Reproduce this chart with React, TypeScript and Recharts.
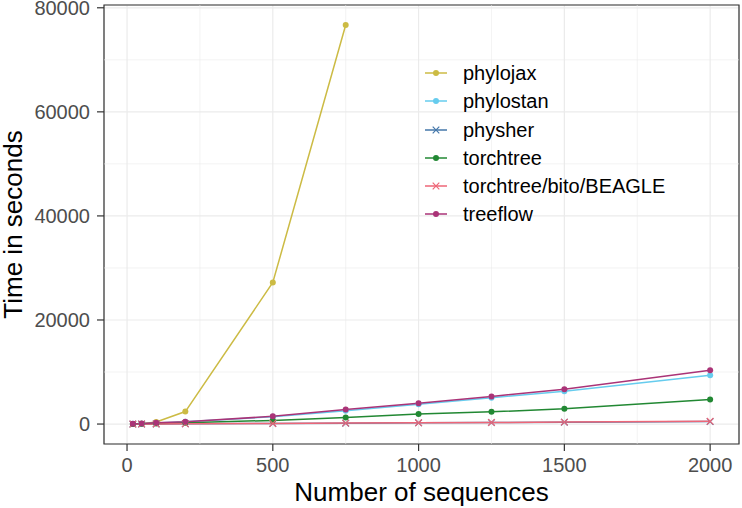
import React from "react";
import {
  LineChart,
  Line,
  XAxis,
  YAxis,
  CartesianGrid,
  ReferenceLine,
  ReferenceArea,
  Legend,
} from "recharts";

// ---- data ----
const SEQUENCES = [20, 50, 100, 200, 500, 750, 1000, 1250, 1500, 2000];
const PHYLOJAX = [10, 60, 400, 2400, 27200, 76700, null, null, null, null];
const PHYLOSTAN = [40, 70, 180, 420, 1420, 2550, 3800, 5050, 6300, 9380];
const PHYSHER = [3, 6, 15, 40, 110, 170, 230, 290, 350, 470];
const TORCHTREE = [15, 35, 90, 250, 700, 1280, 1930, 2350, 2930, 4720];
const TORCHTREE_BITO = [5, 10, 25, 50, 120, 180, 240, 300, 370, 520];
const TREEFLOW = [50, 90, 250, 450, 1480, 2800, 3990, 5300, 6700, 10350];

const X_TICKS = [0, 500, 1000, 1500, 2000];
const X_MINOR = [250, 750, 1250, 1750];
const Y_TICKS = [0, 20000, 40000, 60000, 80000];
const Y_MINOR = [10000, 30000, 50000, 70000];

const X_DOMAIN: [number, number] = [-79, 2099];
const Y_DOMAIN: [number, number] = [-3835, 80535];

type Shape = "circle" | "cross";
const SERIES: { key: string; name: string; color: string; shape: Shape; values: (number | null)[] }[] = [
  { key: "phylojax", name: "phylojax", color: "#CCBB44", shape: "circle", values: PHYLOJAX },
  { key: "phylostan", name: "phylostan", color: "#66CCEE", shape: "circle", values: PHYLOSTAN },
  { key: "physher", name: "physher", color: "#4477AA", shape: "cross", values: PHYSHER },
  { key: "torchtree", name: "torchtree", color: "#228833", shape: "circle", values: TORCHTREE },
  { key: "torchtreeBito", name: "torchtree/bito/BEAGLE", color: "#EE6677", shape: "cross", values: TORCHTREE_BITO },
  { key: "treeflow", name: "treeflow", color: "#AA3377", shape: "circle", values: TREEFLOW },
];

const rows = SEQUENCES.map((n, i) => {
  const r: Record<string, number | null> = { n };
  SERIES.forEach((s) => {
    r[s.key] = s.values[i];
  });
  return r;
});

const LINE_W = 1.5;

const makeDot = (color: string, shape: Shape) => (props: any) => {
  const { cx, cy, index } = props;
  if (cx == null || cy == null || Number.isNaN(cx) || Number.isNaN(cy)) {
    return <g key={`e${index}`} />;
  }
  if (shape === "cross") {
    const d = 3.3;
    return (
      <path
        key={`x${index}`}
        d={`M${cx - d},${cy - d}L${cx + d},${cy + d}M${cx - d},${cy + d}L${cx + d},${cy - d}`}
        stroke={color}
        strokeWidth={1.2}
        fill="none"
      />
    );
  }
  return <circle key={`c${index}`} cx={cx} cy={cy} r={3} fill={color} stroke="none" />;
};

const LegendBox = () => (
  <div style={{ fontFamily: "'Liberation Sans', Arial, sans-serif" }}>
    {SERIES.map((s) => (
      <div key={s.key} style={{ display: "flex", alignItems: "center", height: 28.1 }}>
        <svg width={30} height={28} style={{ display: "block" }}>
          <line x1={5} y1={14} x2={27} y2={14} stroke={s.color} strokeWidth={LINE_W} />
          {s.shape === "circle" ? (
            <circle cx={16} cy={14} r={3} fill={s.color} />
          ) : (
            <path d="M12.7,10.7L19.3,17.3M12.7,17.3L19.3,10.7" stroke={s.color} strokeWidth={1.2} />
          )}
        </svg>
        <span style={{ marginLeft: 13, fontSize: 20, color: "#000", lineHeight: "28px", whiteSpace: "nowrap" }}>
          {s.name}
        </span>
      </div>
    ))}
  </div>
);

export default function App() {
  return (
    <div
      style={{
        position: "absolute",
        left: 0,
        top: 0,
        width: 742,
        height: 508,
        background: "#fff",
        fontFamily: "'Liberation Sans', Arial, sans-serif",
      }}
    >
      <LineChart width={742} height={508} data={rows} margin={{ top: 5, right: 3, bottom: 0, left: 0 }}>
        {X_MINOR.map((x) => (
          <ReferenceLine key={`xm${x}`} x={x} stroke="#EBEBEB" strokeWidth={0.6} />
        ))}
        {Y_MINOR.map((y) => (
          <ReferenceLine key={`ym${y}`} y={y} stroke="#EBEBEB" strokeWidth={0.6} />
        ))}
        <CartesianGrid stroke="#EBEBEB" strokeWidth={1.2} />
        <XAxis
          type="number"
          dataKey="n"
          domain={X_DOMAIN}
          ticks={X_TICKS}
          allowDataOverflow
          interval={0}
          height={64}
          axisLine={false}
          tickSize={7}
          tickMargin={7}
          tickLine={{ stroke: "#333333", strokeWidth: 1.2 }}
          tick={{ fill: "#4D4D4D", fontSize: 20 }}
          label={{ value: "Number of sequences", position: "insideBottom", offset: 7, fill: "#000", fontSize: 26 }}
        />
        <YAxis
          type="number"
          domain={Y_DOMAIN}
          ticks={Y_TICKS}
          allowDataOverflow
          interval={0}
          width={104}
          axisLine={false}
          tickSize={7}
          tickMargin={7}
          tickLine={{ stroke: "#333333", strokeWidth: 1.2 }}
          tick={{ fill: "#4D4D4D", fontSize: 20 }}
          label={{
            value: "Time in seconds",
            angle: -90,
            position: "insideLeft",
            offset: 13,
            fill: "#000",
            fontSize: 26,
            style: { textAnchor: "middle" },
          }}
        />
        {SERIES.map((s) => (
          <Line
            key={s.key}
            type="linear"
            dataKey={s.key}
            name={s.name}
            stroke={s.color}
            strokeWidth={LINE_W}
            dot={makeDot(s.color, s.shape)}
            activeDot={false}
            isAnimationActive={false}
            connectNulls={false}
          />
        ))}
        <ReferenceArea
          x1={X_DOMAIN[0]}
          x2={X_DOMAIN[1]}
          y1={Y_DOMAIN[0]}
          y2={Y_DOMAIN[1]}
          fill="none"
          fillOpacity={0}
          stroke="#333333"
          strokeWidth={1.2}
          ifOverflow="extendDomain"
        />
        <Legend
          layout="vertical"
          align="center"
          verticalAlign="middle"
          wrapperStyle={{ position: "absolute", left: 420, top: 59.3, width: "auto", height: "auto" }}
          content={() => <LegendBox />}
        />
      </LineChart>
    </div>
  );
}
